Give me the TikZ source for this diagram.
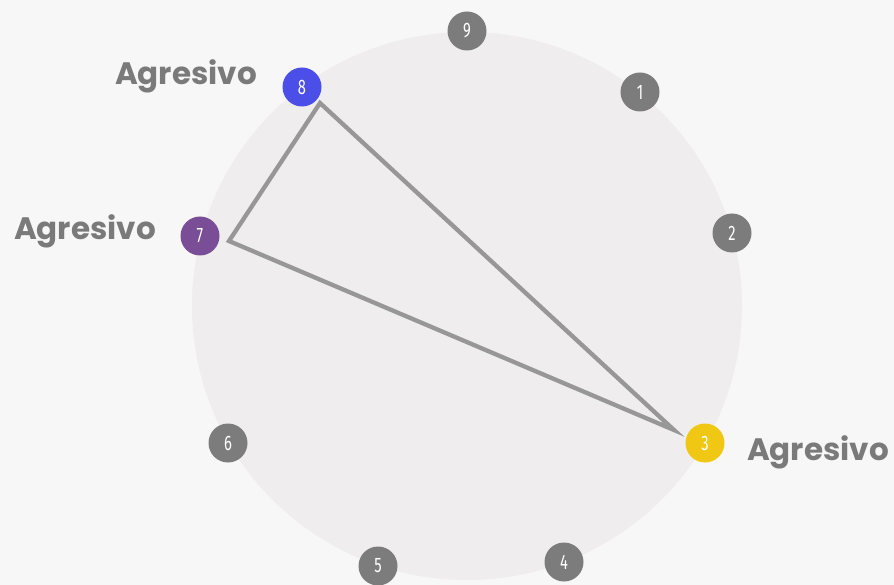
\documentclass[tikz,border=0pt]{standalone}
\usepackage{fontspec}
\setmainfont{Poppins}
\newfontfamily\numfont[FakeStretch=0.7]{Fira Sans}
\definecolor{bgc}{HTML}{F7F7F7}
\definecolor{disc}{HTML}{EFEDEE}
\definecolor{numgrey}{HTML}{7C7C7C}
\definecolor{linegrey}{HTML}{979797}
\definecolor{txtgrey}{HTML}{7A7A7A}
\definecolor{blue8}{HTML}{4B4FE8}
\definecolor{purple7}{HTML}{7A4E96}
\definecolor{yellow3}{HTML}{F0C814}
\tikzset{
  num/.style={circle,fill=numgrey,minimum size=39pt,inner sep=0pt,text=white,font=\numfont\fontsize{21}{21}\selectfont},
  lbl/.style={text=txtgrey,font=\fontsize{31}{31}\selectfont\bfseries},
  edge/.style={draw=linegrey,line width=4.3pt,line join=miter}
}
\begin{document}
\begin{tikzpicture}[x=1pt,y=-1pt]
\useasboundingbox (0,0) rectangle (894,585);
\fill[bgc] (0,0) rectangle (894,585);
\fill[disc] (467,306) ellipse [x radius=275, y radius=274];
\coordinate (v8) at (320,103);
\coordinate (v7) at (229,241);
\coordinate (v3) at (674,430);
\draw[edge] (v8) -- (v7) -- (v3) -- cycle;
\node[num] (n9) at (467,31) {9};
\node[num] (n1) at (640,92) {1};
\node[num] (n2) at (732,233) {2};
\node[num,fill=yellow3] (n3) at (705,443) {3};
\node[num] (n4) at (564,562) {4};
\node[num] (n5) at (378,566) {5};
\node[num] (n6) at (228,443) {6};
\node[num,fill=purple7] (n7) at (200,236) {7};
\node[num,fill=blue8] (n8) at (302,87) {8};
\node[lbl] (l8) at (186,76) {Agresivo};
\node[lbl] (l7) at (85,231) {Agresivo};
\node[lbl] (l3) at (818,452) {Agresivo};
\end{tikzpicture}
\end{document}
